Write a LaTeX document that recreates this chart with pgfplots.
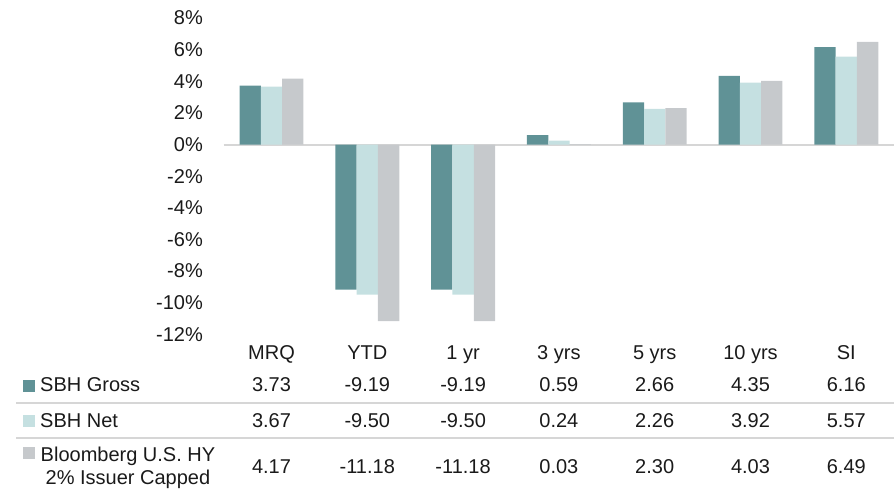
\documentclass[border=0pt]{standalone}
\usepackage{fontspec}
\setmainfont{Liberation Sans}
\usepackage{pgfplots}
\pgfplotsset{compat=1.18}
\usepackage{pgfplotstable}
\definecolor{gross}{HTML}{609296}
\definecolor{net}{HTML}{C5E0E1}
\definecolor{bbg}{HTML}{C6C9CC}
\definecolor{rulec}{HTML}{D6D6D6}
\definecolor{txt}{HTML}{1A1A1A}

\pgfplotstableread{
x gross net bbg
0 3.73 3.67 4.17
1 -9.19 -9.50 -11.18
2 -9.19 -9.50 -11.18
3 0.59 0.24 0.03
4 2.66 2.26 2.30
5 4.35 3.92 4.03
6 6.16 5.57 6.49
}\perf

\begin{document}
\begin{tikzpicture}[font=\fontsize{20}{24}\selectfont, text=txt]
\path[use as bounding box] (0,0) rectangle (894pt,-490pt);
\begin{axis}[
  at={(223.6pt,-334.1pt)}, anchor=south west,
  scale only axis, width=670.6pt, height=316pt,
  xmin=-0.5, xmax=6.5, ymin=-12, ymax=8,
  clip=false,
  axis line style={draw=none},
  major tick length=0pt,
  xtick=\empty,
  ytick={-12,-10,-8,-6,-4,-2,0,2,4,6,8},
  yticklabels={-12\%,-10\%,-8\%,-6\%,-4\%,-2\%,0\%,2\%,4\%,6\%,8\%},
  yticklabel style={inner sep=0pt, xshift=-20.6pt, font=\fontsize{20}{24}\selectfont, text=txt},
  ybar=0pt, bar width=21.3pt,
]
\draw[rulec, line width=2pt] (axis cs:-0.5,0) -- (axis cs:6.5,0);
\addplot[fill=gross, draw=none] table[x=x,y=gross]{\perf};
\addplot[fill=net, draw=none] table[x=x,y=net]{\perf};
\addplot[fill=bbg, draw=none] table[x=x,y=bbg]{\perf};

% header row
\node[anchor=base] at (axis cs:0,-13.58) {MRQ};
\node[anchor=base] at (axis cs:1,-13.58) {YTD};
\node[anchor=base] at (axis cs:2,-13.58) {1 yr};
\node[anchor=base] at (axis cs:3,-13.58) {3 yrs};
\node[anchor=base] at (axis cs:4,-13.58) {5 yrs};
\node[anchor=base] at (axis cs:5,-13.58) {10 yrs};
\node[anchor=base] at (axis cs:6,-13.58) {SI};

% separators
\draw[rulec, line width=2pt] (axis cs:-2.667,-16.36) -- (axis cs:6.5,-16.36);
\draw[rulec, line width=2pt] (axis cs:-2.667,-18.58) -- (axis cs:6.5,-18.58);

% legend squares and labels
\fill[gross] (axis cs:-2.594,-14.90) rectangle (axis cs:-2.469,-15.66);
\fill[net] (axis cs:-2.594,-17.12) rectangle (axis cs:-2.469,-17.88);
\fill[bbg] (axis cs:-2.594,-19.15) rectangle (axis cs:-2.469,-19.91);
\node[anchor=base west, inner sep=0pt] at (axis cs:-2.416,-15.66) {SBH Gross};
\node[anchor=base west, inner sep=0pt] at (axis cs:-2.416,-17.88) {SBH Net};
\node[anchor=base, inner sep=0pt] at (axis cs:-1.498,-20.09) {Bloomberg U.S. HY};
\node[anchor=base, inner sep=0pt] at (axis cs:-1.498,-21.49) {2\% Issuer Capped};

% gross values
\node[anchor=base] at (axis cs:0,-15.66) {3.73};
\node[anchor=base] at (axis cs:1,-15.66) {-9.19};
\node[anchor=base] at (axis cs:2,-15.66) {-9.19};
\node[anchor=base] at (axis cs:3,-15.66) {0.59};
\node[anchor=base] at (axis cs:4,-15.66) {2.66};
\node[anchor=base] at (axis cs:5,-15.66) {4.35};
\node[anchor=base] at (axis cs:6,-15.66) {6.16};
% net values
\node[anchor=base] at (axis cs:0,-17.88) {3.67};
\node[anchor=base] at (axis cs:1,-17.88) {-9.50};
\node[anchor=base] at (axis cs:2,-17.88) {-9.50};
\node[anchor=base] at (axis cs:3,-17.88) {0.24};
\node[anchor=base] at (axis cs:4,-17.88) {2.26};
\node[anchor=base] at (axis cs:5,-17.88) {3.92};
\node[anchor=base] at (axis cs:6,-17.88) {5.57};
% benchmark values
\node[anchor=base] at (axis cs:0,-20.85) {4.17};
\node[anchor=base] at (axis cs:1,-20.85) {-11.18};
\node[anchor=base] at (axis cs:2,-20.85) {-11.18};
\node[anchor=base] at (axis cs:3,-20.85) {0.03};
\node[anchor=base] at (axis cs:4,-20.85) {2.30};
\node[anchor=base] at (axis cs:5,-20.85) {4.03};
\node[anchor=base] at (axis cs:6,-20.85) {6.49};
\end{axis}
\end{tikzpicture}
\end{document}
